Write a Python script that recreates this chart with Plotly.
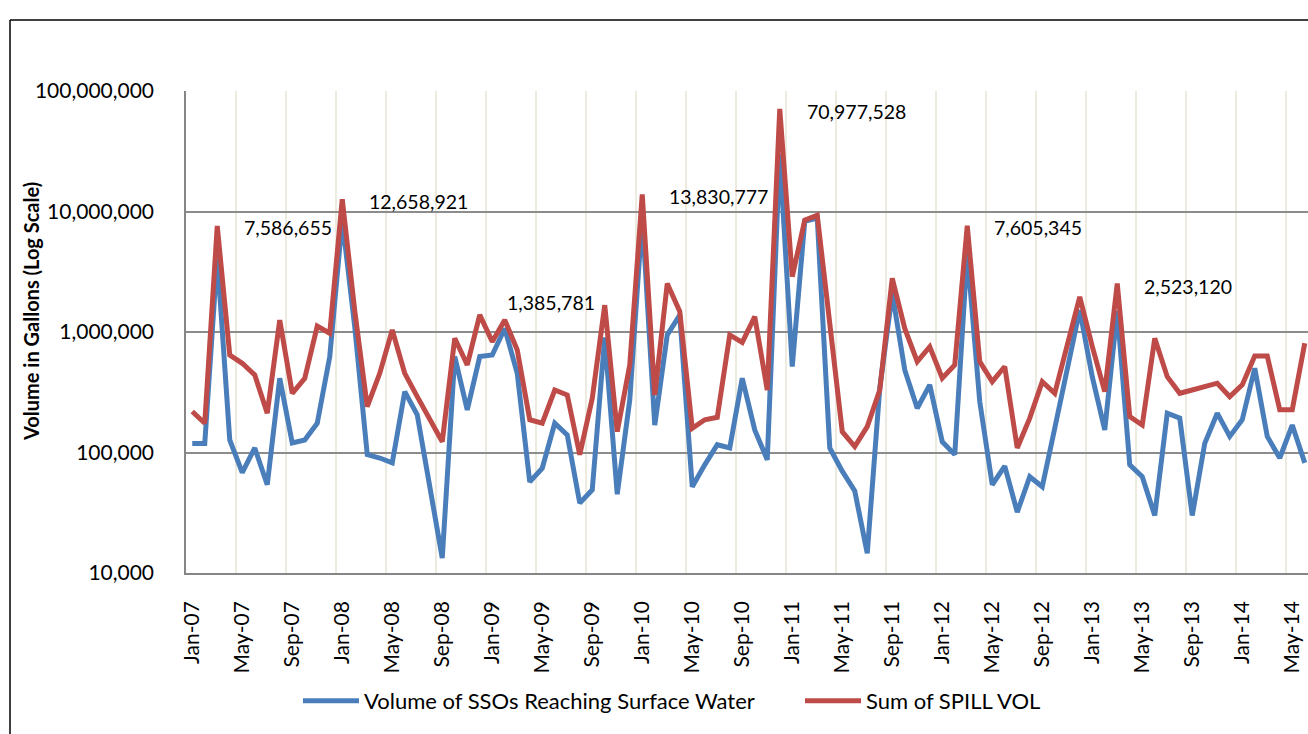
import math
import pandas as pd
import plotly.graph_objects as go

months = pd.date_range("2007-01-01", periods=90, freq="MS").strftime("%b-%y").tolist()

sso_surface = [
    119000, 119000, 4200000, 127000, 68000, 109000, 54000, 413000, 120000, 127000,
    175000, 625000, 8500000, 1100000, 96000, 90000, 82000, 320000, 205000, 52000,
    13300, 625000, 226000, 625000, 645000, 1070000, 454000, 57000, 74000, 175000,
    140000, 38000, 49000, 900000, 45000, 273000, 9000000, 169000, 945000, 1380000,
    52000, 79000, 116000, 109000, 413000, 154000, 87000, 30000000, 517000, 8300000,
    8800000, 109000, 70000, 48000, 14600, 341000, 2090000, 484000, 233000, 364000,
    123000, 96000, 4500000, 265000, 54000, 77000, 32000, 63000, 52000, 159000,
    484000, 1520000, 426000, 154000, 1500000, 79000, 63000, 30000, 212000, 193000,
    30000, 119000, 212000, 136000, 187000, 500000, 136000, 90000, 169000, 82000,
]

spill_vol = [
    219000, 175000, 7586655, 644000, 550000, 440000, 212000, 1256000, 310000, 413000,
    1120000, 976000, 12658921, 1500000, 240000, 454000, 1040000, 454000, 291000, 187000,
    123000, 887000, 533000, 1385781, 832000, 1260000, 710000, 187000, 175000, 330000,
    300000, 96000, 282000, 1670000, 149000, 533000, 13830777, 300000, 2530000, 1480000,
    159000, 187000, 196000, 945000, 820000, 1340000, 330000, 70977528, 2880000, 8470000,
    9300000, 1180000, 149000, 112000, 164000, 330000, 2790000, 1070000, 568000, 755000,
    413000, 533000, 7605345, 568000, 387000, 517000, 109000, 193000, 387000, 310000,
    755000, 1960000, 760000, 320000, 2523120, 199000, 169000, 887000, 426000, 310000,
    330000, 352000, 376000, 291000, 364000, 633000, 633000, 226000, 226000, 806000,
]

peak_months = [2, 12, 23, 36, 47, 62, 74]
peak_yshift = [-2, -2, 12, -2, -3, -2, -3]

y_tickvals = [1e4, 1e5, 1e6, 1e7, 1e8]
y_ticktext = ["10,000", "100,000", "1,000,000", "10,000,000", "100,000,000"]

x = list(range(len(months)))

FONT = "Lato"
BLUE = "#4A7EBB"
RED = "#BE4B48"

fig = go.Figure()
fig.add_trace(go.Scatter(x=x, y=sso_surface, mode="lines", name="Volume of SSOs Reaching Surface Water",
                         line=dict(color=BLUE, width=5), legend="legend"))
fig.add_trace(go.Scatter(x=x, y=spill_vol, mode="lines", name="Sum of SPILL VOL",
                         line=dict(color=RED, width=5), legend="legend2"))

for idx, ys in zip(peak_months, peak_yshift):
    fig.add_annotation(x=idx, y=math.log10(spill_vol[idx]), yref="y", xref="x",
                       text=f"{spill_vol[idx]:,}", showarrow=False,
                       xanchor="left", yanchor="middle", xshift=25, yshift=ys,
                       font=dict(family=FONT, size=19.5, color="#000000"))

W, H = 1308, 734
ml, mr, mt, mb = 186, 0, 91, 161
pw, ph = W - ml - mr, H - mt - mb

def px_x(p):
    return (p - ml) / pw

def px_y(p):
    return (H - mb - p) / ph

# y-axis title placed as rotated text
fig.add_annotation(xref="paper", yref="paper", x=px_x(31), y=px_y(312),
                   text="<b>Volume in Gallons (Log Scale)</b>", textangle=-90,
                   showarrow=False, xanchor="center", yanchor="middle",
                   font=dict(family=FONT, size=20, color="#000000"))

# outer chart border (cropped at right and bottom)
fig.add_shape(type="line", xref="paper", yref="paper", x0=px_x(10), x1=px_x(10),
              y0=px_y(H + 5), y1=px_y(20), line=dict(color="#000000", width=1.5))
fig.add_shape(type="line", xref="paper", yref="paper", x0=px_x(10), x1=px_x(W + 5),
              y0=px_y(20), y1=px_y(20), line=dict(color="#000000", width=1.5))

legend_common = dict(orientation="h", xanchor="left", yanchor="middle",
                     font=dict(family=FONT, size=22), itemwidth=56,
                     bgcolor="rgba(0,0,0,0)")

fig.update_layout(
    width=W, height=H,
    margin=dict(l=ml, r=mr, t=mt, b=mb, autoexpand=False),
    paper_bgcolor="white", plot_bgcolor="white",
    font=dict(family=FONT, color="#000000"),
    showlegend=True,
    legend=dict(x=px_x(298), y=px_y(701), **legend_common),
    legend2=dict(x=px_x(800), y=px_y(701), **legend_common),
    xaxis=dict(
        range=[-0.5, (W - ml) / 12.5 - 0.5],
        tickmode="array", tickvals=x[::4], ticktext=months[::4],
        tickangle=-90, tickfont=dict(family=FONT, size=21),
        ticklabelstandoff=18,
        showgrid=False, zeroline=False,
        showline=True, linecolor="#868686", linewidth=1.5,
        minor=dict(tickmode="array", tickvals=[v - 0.5 for v in x[::4]] + [x[-1] + 0.5],
                   showgrid=True, gridcolor="#EDEBDF", gridwidth=1.5),
    ),
    yaxis=dict(
        type="log", range=[4, 8],
        tickmode="array", tickvals=y_tickvals, ticktext=y_ticktext,
        tickfont=dict(family=FONT, size=21),
        ticklabelstandoff=26,
        showgrid=True, gridcolor="#8C8C8C", gridwidth=1.5,
        zeroline=False, showline=True, linecolor="#868686", linewidth=1.5,
    ),
)

fig.write_html("out.html", config={"displayModeBar": False},
               post_script="document.body.style.margin='0';")
